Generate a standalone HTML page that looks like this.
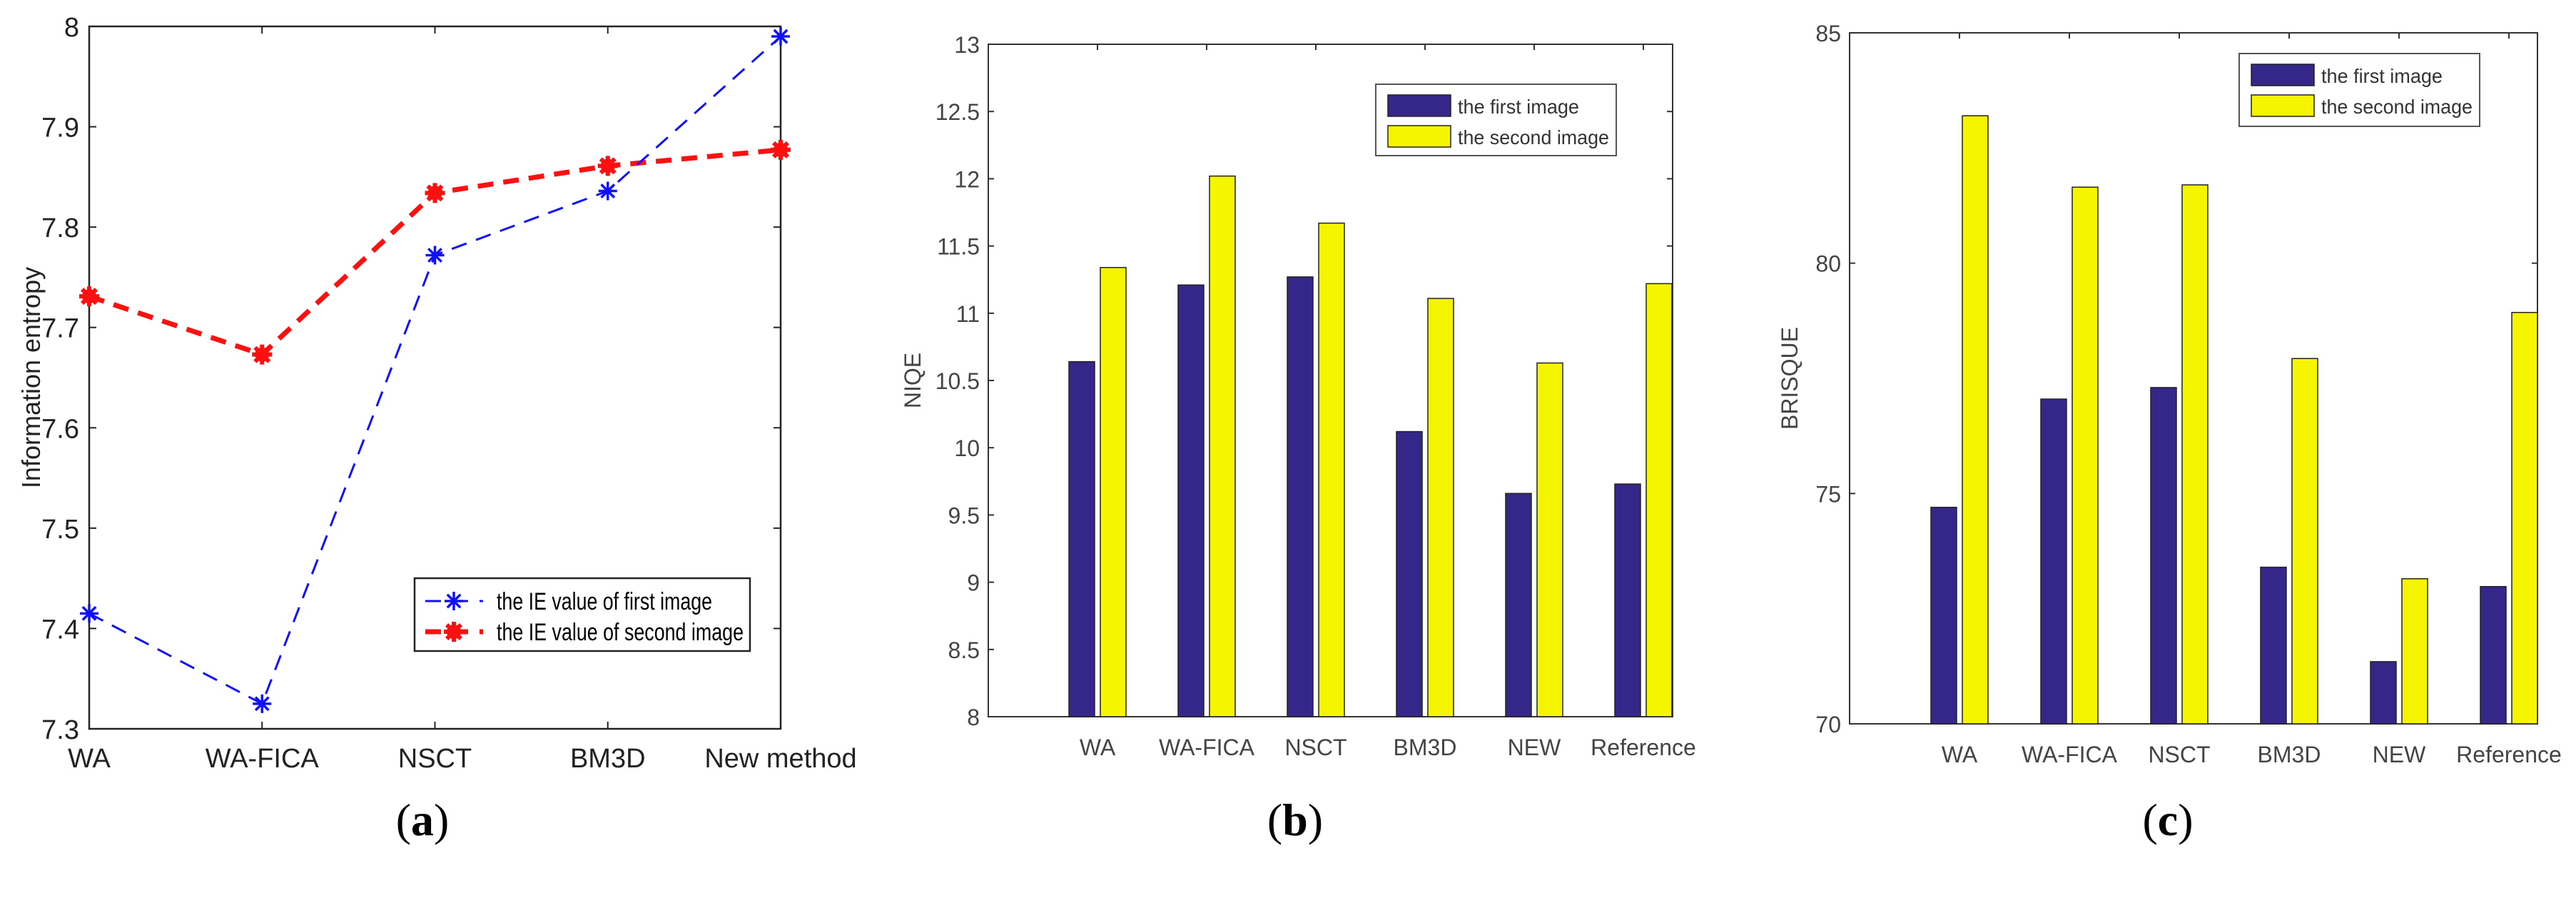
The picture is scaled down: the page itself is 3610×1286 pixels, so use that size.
<!DOCTYPE html>
<html><head><meta charset="utf-8"><style>
html,body{margin:0;padding:0;background:#fff;}
svg{display:block;font-family:"Liberation Sans",sans-serif;}
</style></head><body>
<svg id="svg" width="3610" height="1286" viewBox="0 0 3610 1286" xmlns="http://www.w3.org/2000/svg">
<g id="ga"></g>
<g id="gb"></g>
<g id="gc"></g>
</svg>
<script>
// chart a data
const catsA = ["WA","WA-FICA","NSCT","BM3D","New method"];
const firstIE = [7.415, 7.325, 7.772, 7.836, 7.99];
const secondIE = [7.731, 7.673, 7.834, 7.861, 7.877];
const ticksA = [7.3,7.4,7.5,7.6,7.7,7.8,7.9,8];
const tickLabelsA = ["7.3","7.4","7.5","7.6","7.7","7.8","7.9","8"];
// chart b data
const catsB = ["WA","WA-FICA","NSCT","BM3D","NEW","Reference"];
const niqeFirst = [10.64, 11.21, 11.27, 10.12, 9.66, 9.73];
const niqeSecond = [11.34, 12.02, 11.67, 11.11, 10.63, 11.22];
const ticksB = [8,8.5,9,9.5,10,10.5,11,11.5,12,12.5,13];
const tickLabelsB = ["8","8.5","9","9.5","10","10.5","11","11.5","12","12.5","13"];
// chart c data
const catsC = ["WA","WA-FICA","NSCT","BM3D","NEW","Reference"];
const brisqueFirst = [74.7, 77.05, 77.3, 73.4, 71.35, 72.98];
const brisqueSecond = [83.2, 81.65, 81.7, 77.93, 73.15, 78.93];
const ticksC = [70,75,80,85];
const tickLabelsC = ["70","75","80","85"];

const NS="http://www.w3.org/2000/svg";
function mk(parent,tag,attrs,text){const e=document.createElementNS(NS,tag);for(const k in attrs)e.setAttribute(k,attrs[k]);if(text!==undefined)e.textContent=text;parent.appendChild(e);return e;}

// ---------- chart a ----------
(function(){
const g=document.getElementById('ga');
const L=125,R=1094,T=37,B=1021,ymin=7.3,ymax=8;
const sx=i=>L+(R-L)*i/(catsA.length-1);
const sy=v=>B-(B-T)*(v-ymin)/(ymax-ymin);
let r=mk(g,'rect',{x:L,y:T,width:R-L,height:B-T,fill:'#fff',stroke:'#222','stroke-width':2.5});


ticksA.forEach((v,i)=>{
 mk(g,'line',{x1:L,x2:L+10,y1:sy(v),y2:sy(v),stroke:'#222','stroke-width':2});
 mk(g,'line',{x1:R-10,x2:R,y1:sy(v),y2:sy(v),stroke:'#222','stroke-width':2});
 let t=mk(g,'text',{x:L-14,y:sy(v)+14,'text-anchor':'end','font-size':38,fill:'#222'},tickLabelsA[i]);
 
 
});
catsA.forEach((c,i)=>{
 mk(g,'line',{x1:sx(i),x2:sx(i),y1:B,y2:B-10,stroke:'#222','stroke-width':2});
 mk(g,'line',{x1:sx(i),x2:sx(i),y1:T,y2:T+10,stroke:'#222','stroke-width':2});
 let t=mk(g,'text',{x:sx(i),y:1075,'text-anchor':'middle','font-size':38,fill:'#222'},c);
 
 
});
let yt=mk(g,'text',{x:0,y:0,transform:'translate(56,529) rotate(-90)','text-anchor':'middle','font-size':36,fill:'#222'},'Information entropy');


function star(x,y,col,sz,w){for(let k=0;k<4;k++){const a=k*Math.PI/4;mk(g,'line',{x1:x-sz*Math.cos(a),y1:y-sz*Math.sin(a),x2:x+sz*Math.cos(a),y2:y+sz*Math.sin(a),stroke:col,'stroke-width':w});}}
const p2=secondIE.map((v,i)=>sx(i)+','+sy(v)).join(' ');
let l2=mk(g,'polyline',{points:p2,fill:'none',stroke:'#ff1010','stroke-width':7,'stroke-dasharray':'22 14'});


const p1=firstIE.map((v,i)=>sx(i)+','+sy(v)).join(' ');
let l1=mk(g,'polyline',{points:p1,fill:'none',stroke:'#1010ff','stroke-width':3,'stroke-dasharray':'22 14'});


secondIE.forEach((v,i)=>{mk(g,'circle',{cx:sx(i),cy:sy(v),r:10,fill:'#ff1010'});star(sx(i),sy(v),'#ff1010',14,6);});
firstIE.forEach((v,i)=>star(sx(i),sy(v),'#1010ff',13,3.5));
let lg=mk(g,'rect',{x:581,y:810,width:470,height:102,fill:'#fff',stroke:'#222','stroke-width':2.5});


mk(g,'line',{x1:596,x2:677,y1:842,y2:842,stroke:'#1010ff','stroke-width':3,'stroke-dasharray':'22 16'});
star(636,842,'#1010ff',13,3.5);
mk(g,'line',{x1:596,x2:677,y1:885,y2:885,stroke:'#ff1010','stroke-width':7,'stroke-dasharray':'22 16'});
mk(g,'circle',{cx:636,cy:885,r:10,fill:'#ff1010'});star(636,885,'#ff1010',14,6);
let e1=mk(g,'text',{x:696,y:854,'font-size':34,textLength:302,lengthAdjust:'spacingAndGlyphs',fill:'#000'},'the IE value of first image');


let e2=mk(g,'text',{x:696,y:897,'font-size':34,textLength:346,lengthAdjust:'spacingAndGlyphs',fill:'#000'},'the IE value of second image');


let cap=mk(g,'text',{x:592,y:1170,'text-anchor':'middle','font-size':64,'font-family':'Liberation Serif,serif',fill:'#000'},'');
cap.innerHTML='(<tspan font-weight="bold">a</tspan>)';


})();

// ---------- bar charts ----------
function barChart(gid,cfg,cats,s1,s2,ticks,tickLabels,title,capLetter,tag){
 const g=document.getElementById(gid);
 const {L,R,T,B,ymin,ymax,c0,step,bw,lgx,lgy,lgw,lgh,capx,titleOff}=cfg;
 const sy=v=>B-(B-T)*(v-ymin)/(ymax-ymin);
 const cx=i=>c0+step*i;
 let r=mk(g,'rect',{x:L,y:T,width:R-L,height:B-T,fill:'#fff',stroke:'#333','stroke-width':2});
 
 
 ticks.forEach((v,i)=>{
  mk(g,'line',{x1:L,x2:L+8,y1:sy(v),y2:sy(v),stroke:'#333','stroke-width':2});
  mk(g,'line',{x1:R-8,x2:R,y1:sy(v),y2:sy(v),stroke:'#333','stroke-width':2});
  let t=mk(g,'text',{x:L-12,y:sy(v)+12,'text-anchor':'end','font-size':32,fill:'#444'},tickLabels[i]);
  
  
 });
 cats.forEach((c,i)=>{
  mk(g,'line',{x1:cx(i),x2:cx(i),y1:T,y2:T+8,stroke:'#333','stroke-width':2});
  let b1=mk(g,'rect',{x:cx(i)-bw-4,y:sy(s1[i]),width:bw,height:B-sy(s1[i]),fill:'#35268a',stroke:'#222','stroke-width':1.5});
  
  
  let b2=mk(g,'rect',{x:cx(i)+4,y:sy(s2[i]),width:bw,height:B-sy(s2[i]),fill:'#f5f500',stroke:'#222','stroke-width':1.5});
  
  
  let t=mk(g,'text',{x:cx(i),y:B+54,'text-anchor':'middle','font-size':32,fill:'#444'},c);
  
  
 });
 let yt=mk(g,'text',{x:0,y:0,transform:'translate('+(L-titleOff)+','+((T+B)/2)+') rotate(-90)','text-anchor':'middle','font-size':32,fill:'#444'},title);
 
 
 let lg=mk(g,'rect',{x:lgx,y:lgy,width:lgw,height:lgh,fill:'#fff',stroke:'#555','stroke-width':2});
 
 
 mk(g,'rect',{x:lgx+17,y:lgy+15,width:88,height:30,fill:'#35268a',stroke:'#222','stroke-width':1.5});
 mk(g,'rect',{x:lgx+17,y:lgy+58,width:88,height:30,fill:'#f5f500',stroke:'#222','stroke-width':1.5});
 let e1=mk(g,'text',{x:lgx+115,y:lgy+41,'font-size':28,fill:'#333',textLength:170,lengthAdjust:'spacingAndGlyphs'},'the first image');
 
 
 let e2=mk(g,'text',{x:lgx+115,y:lgy+84,'font-size':28,fill:'#333',textLength:212,lengthAdjust:'spacingAndGlyphs'},'the second image');
 
 
 let cap=mk(g,'text',{x:capx,y:1170,'text-anchor':'middle','font-size':64,'font-family':'Liberation Serif,serif',fill:'#000'},'');
 cap.innerHTML='(<tspan font-weight="bold">'+capLetter+'</tspan>)';
 
 
}
barChart('gb',{L:1385,R:2344,T:62,B:1004,ymin:8,ymax:13,c0:1538,step:153,bw:36,lgx:1928,lgy:118,lgw:337,lgh:100,capx:1815,titleOff:95},catsB,niqeFirst,niqeSecond,ticksB,tickLabelsB,'NIQE','b','b');
barChart('gc',{L:2592,R:3556,T:46,B:1014,ymin:70,ymax:85,c0:2746,step:154,bw:36,lgx:3138,lgy:75,lgw:337,lgh:102,capx:3038,titleOff:73},catsC,brisqueFirst,brisqueSecond,ticksC,tickLabelsC,'BRISQUE','c','c');
</script>
</body></html>
